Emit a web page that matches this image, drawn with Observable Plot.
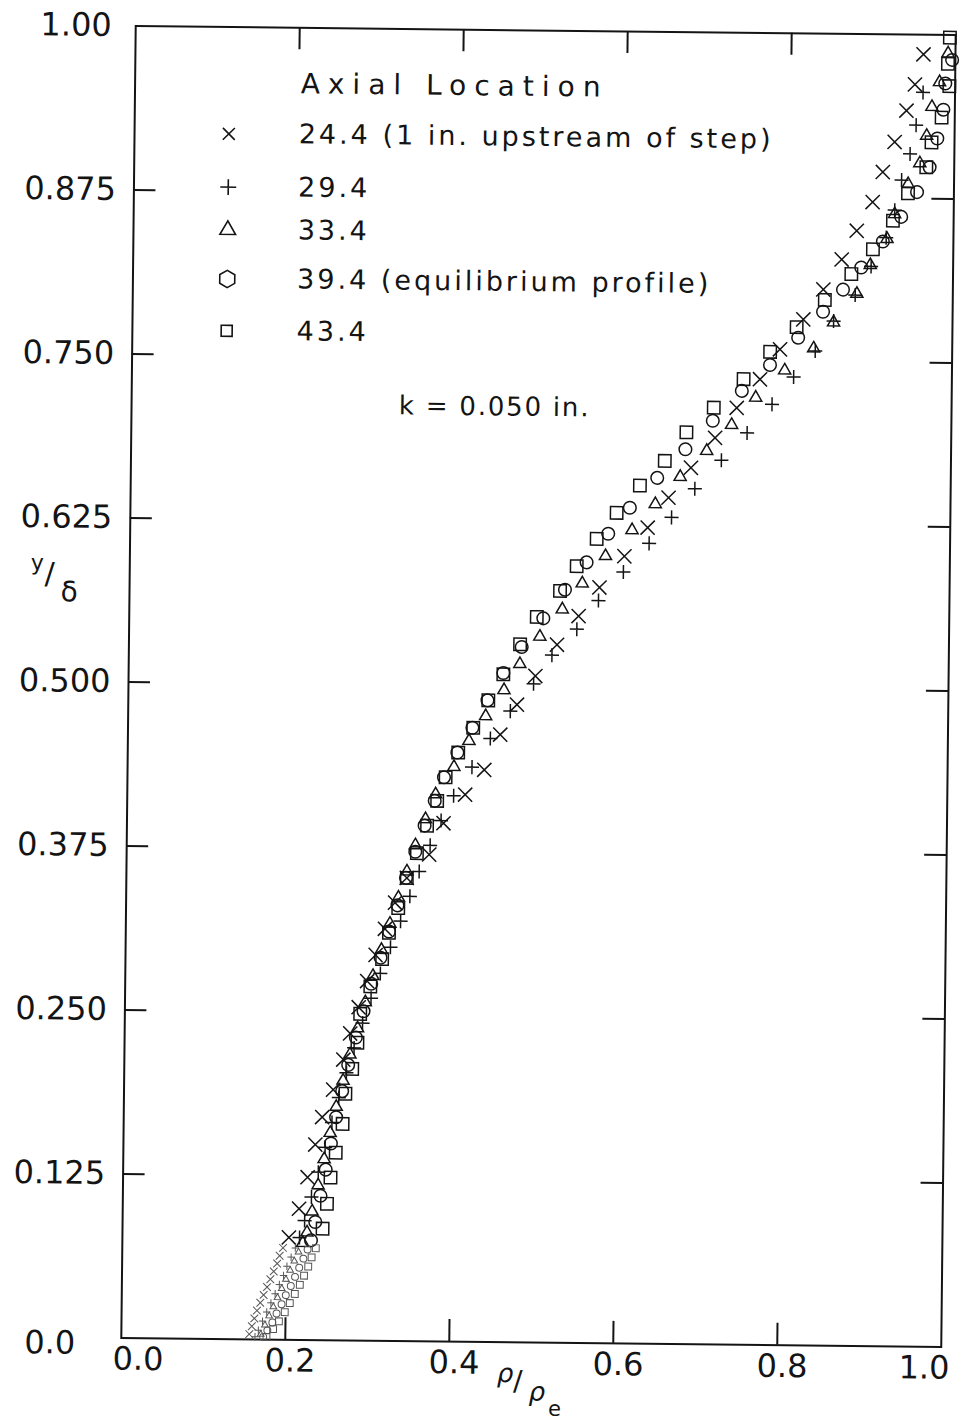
<!DOCTYPE html>
<html>
<head>
<meta charset="utf-8">
<script src="https://cdn.jsdelivr.net/npm/d3@7"></script>
<script src="https://cdn.jsdelivr.net/npm/@observablehq/plot@0.6"></script>
<style>
  html, body { margin: 0; padding: 0; background: #fff; overflow: hidden; }
  #chart { width: 962px; height: 1425px; position: relative; }
  g[font-size="28"] { letter-spacing: 8px; }
  g[font-size="27"] { letter-spacing: 3px; }
  g[font-size="26"] { letter-spacing: 1.8px; }
</style>
</head>
<body>
<div id="chart"></div>
<script>
// ---------- tick values and labels ----------
const xTicks = [0, 0.2, 0.4, 0.6, 0.8, 1.0];
const xTickLabels = ["0.0", "0.2", "0.4", "0.6", "0.8", "1.0"];
const yTicks = [0, 0.125, 0.25, 0.375, 0.5, 0.625, 0.75, 0.875, 1.0];
const yTickLabels = ["0.0", "0.125", "0.250", "0.375", "0.500", "0.625", "0.750", "0.875", "1.00"];

// ---------- legend ----------
const legendTitle = "Axial Location";
const seriesLabels = [
  "24.4 (1 in. upstream of step)",
  "29.4",
  "33.4",
  "39.4 (equilibrium profile)",
  "43.4"
];
const seriesSymbols = ["times", "plus", "triangle", "circle", "square"];
const legendSymbols = ["times", "plus", "triangle", "hexagon", "square"];
const annotation = "k = 0.050 in.";

// ---------- data: [rho/rho_e, y/delta] ----------
const s244 = [
  [0.961,0.985],[0.951,0.962],[0.941,0.942],[0.927,0.918],[0.913,0.895],[0.901,0.872],[0.882,0.850],
  [0.864,0.828],[0.842,0.805],[0.818,0.782],[0.790,0.759],[0.766,0.736],[0.738,0.714],[0.712,0.691],
  [0.683,0.668],[0.656,0.645],[0.631,0.622],[0.603,0.600],[0.573,0.576],[0.548,0.554],[0.522,0.532],
  [0.496,0.508],[0.474,0.486],[0.454,0.463],[0.435,0.436],[0.412,0.417],[0.386,0.395],[0.369,0.371],
  [0.342,0.353],[0.328,0.334],[0.316,0.314],[0.305,0.294],[0.295,0.274],[0.285,0.254],[0.275,0.234],
  [0.267,0.214],[0.255,0.191],[0.242,0.170],[0.234,0.149],[0.225,0.124],[0.215,0.100],[0.203,0.078],
  [0.196,0.070],[0.192,0.064],[0.189,0.058],[0.185,0.052],[0.181,0.046],[0.177,0.040],[0.173,0.034],
  [0.169,0.028],[0.165,0.022],[0.162,0.016],[0.159,0.010],[0.156,0.004]
];
const s294 = [
  [0.961,0.956],[0.953,0.931],[0.946,0.909],[0.936,0.889],[0.928,0.866],[0.918,0.845],[0.900,0.823],
  [0.881,0.801],[0.855,0.781],[0.833,0.758],[0.807,0.738],[0.781,0.717],[0.751,0.695],[0.720,0.674],
  [0.688,0.652],[0.660,0.630],[0.633,0.610],[0.602,0.588],[0.572,0.566],[0.546,0.544],[0.516,0.524],
  [0.494,0.502],[0.466,0.481],[0.442,0.460],[0.420,0.438],[0.398,0.416],[0.383,0.397],[0.370,0.378],
  [0.357,0.358],[0.346,0.339],[0.335,0.320],[0.323,0.300],[0.311,0.280],[0.300,0.261],[0.290,0.242],
  [0.280,0.223],[0.271,0.204],[0.262,0.185],[0.254,0.166],[0.246,0.147],[0.238,0.128],[0.230,0.109],
  [0.222,0.091],[0.216,0.078],
  [0.211,0.070],[0.206,0.063],[0.201,0.056],[0.197,0.049],[0.192,0.042],[0.187,0.035],[0.182,0.028],
  [0.177,0.021],[0.172,0.014],[0.167,0.007],[0.163,0.002]
];
const s334 = [
  [0.991,0.986],[0.981,0.964],[0.972,0.945],[0.966,0.923],[0.958,0.902],[0.944,0.886],[0.928,0.863],
  [0.919,0.844],[0.899,0.824],[0.883,0.802],[0.855,0.780],[0.831,0.760],[0.796,0.743],[0.761,0.722],
  [0.732,0.701],[0.702,0.681],[0.670,0.661],[0.640,0.640],[0.612,0.620],[0.580,0.600],[0.552,0.579],
  [0.528,0.559],[0.501,0.538],[0.477,0.517],[0.458,0.497],[0.436,0.477],[0.416,0.458],[0.398,0.438],
  [0.376,0.417],[0.364,0.398],[0.352,0.378],[0.342,0.358],[0.332,0.338],[0.322,0.318],[0.312,0.298],
  [0.302,0.278],[0.293,0.258],[0.284,0.238],[0.275,0.218],[0.267,0.198],[0.259,0.178],[0.252,0.158],
  [0.245,0.138],[0.238,0.118],[0.231,0.098],[0.225,0.082],
  [0.220,0.074],[0.215,0.067],[0.210,0.060],[0.205,0.053],[0.200,0.046],[0.195,0.039],[0.190,0.032],
  [0.185,0.025],[0.180,0.018],[0.175,0.011],[0.170,0.004]
];
const s394 = [
  [0.996,0.981],[0.988,0.963],[0.986,0.943],[0.979,0.921],[0.970,0.899],[0.955,0.880],[0.936,0.861],
  [0.914,0.842],[0.888,0.822],[0.866,0.805],[0.842,0.788],[0.812,0.768],[0.778,0.747],[0.744,0.727],
  [0.709,0.704],[0.676,0.682],[0.642,0.660],[0.609,0.637],[0.583,0.617],[0.557,0.595],[0.531,0.574],
  [0.505,0.552],[0.479,0.530],[0.457,0.510],[0.438,0.489],[0.420,0.468],[0.402,0.449],[0.386,0.430],
  [0.375,0.412],[0.363,0.393],[0.352,0.373],[0.341,0.353],[0.331,0.332],[0.321,0.312],[0.311,0.292],
  [0.300,0.272],[0.291,0.251],[0.282,0.231],[0.273,0.210],[0.266,0.190],[0.259,0.170],[0.253,0.150],
  [0.247,0.130],[0.241,0.110],[0.235,0.090],[0.230,0.076],
  [0.226,0.069],[0.221,0.062],[0.216,0.055],[0.211,0.048],[0.206,0.041],[0.200,0.034],[0.195,0.027],
  [0.189,0.020],[0.184,0.013],[0.178,0.007],[0.173,0.002]
];
const s434 = [
  [0.993,0.998],[0.991,0.978],[0.993,0.961],[0.984,0.937],[0.972,0.918],[0.966,0.899],[0.944,0.879],
  [0.926,0.858],[0.902,0.836],[0.876,0.817],[0.844,0.797],[0.810,0.776],[0.778,0.757],[0.746,0.736],
  [0.710,0.714],[0.677,0.695],[0.651,0.673],[0.621,0.654],[0.593,0.633],[0.569,0.613],[0.545,0.592],
  [0.525,0.573],[0.497,0.553],[0.477,0.532],[0.457,0.509],[0.439,0.489],[0.421,0.468],[0.403,0.449],
  [0.388,0.430],[0.378,0.412],[0.366,0.393],[0.354,0.372],[0.342,0.353],[0.332,0.330],[0.321,0.311],
  [0.313,0.291],[0.299,0.270],[0.287,0.249],[0.284,0.227],[0.278,0.207],[0.270,0.188],[0.267,0.165],
  [0.259,0.143],[0.253,0.124],[0.249,0.104],[0.244,0.085],[0.236,0.070],
  [0.231,0.063],[0.227,0.056],[0.222,0.049],[0.217,0.042],[0.211,0.035],[0.205,0.028],[0.199,0.021],
  [0.192,0.014],[0.185,0.008],[0.177,0.002]
];

// ---------- build table ----------
const seriesData = [s244, s294, s334, s394, s434];
const points = seriesData.flatMap((arr, i) =>
  arr.map(([x, y]) => ({series: seriesLabels[i], idx: i, x, y})));

// ---------- styling / layout constants ----------
const INK = "#141414";
const FONT = "DejaVu Sans";
const nearWall = 0.072;
const symR = [6.5, 4.6, 4.5, 6.3, 7.0];
const legR = [5.5, 5.2, 5.8, 7.5, 6.2];
const tickLenX = 22 / 820, tickLenY = 22 / 1312;
const legendRowY = [0.9186, 0.878, 0.8454, 0.808, 0.7685];

const marks = [];

// frame and inward ticks on all four sides
marks.push(Plot.frame({stroke: INK, strokeWidth: 2}));
const yInner = yTicks.slice(1, -1), xInner = xTicks.slice(1, -1);
marks.push(Plot.ruleY(yInner, {y: d => d, x1: 0, x2: tickLenX, stroke: INK, strokeWidth: 2}));
marks.push(Plot.ruleY(yInner, {y: d => d, x1: 1 - tickLenX, x2: 1, stroke: INK, strokeWidth: 2}));
marks.push(Plot.ruleX(xInner, {x: d => d, y1: 0, y2: tickLenY, stroke: INK, strokeWidth: 2}));
marks.push(Plot.ruleX(xInner, {x: d => d, y1: 1 - tickLenY, y2: 1, stroke: INK, strokeWidth: 2}));

// y tick labels
const yLab = yTicks.map((v, i) => ({v, t: yTickLabels[i]}));
marks.push(Plot.text(yLab.filter(d => d.v > 0 && d.v < 1), {x: () => 0, y: "v", text: "t", textAnchor: "end", dx: -18, fontSize: 32, fill: INK}));
marks.push(Plot.text(yLab.filter(d => d.v === 1), {x: () => 0, y: "v", text: "t", textAnchor: "end", dx: -24, fontSize: 32, fill: INK}));
marks.push(Plot.text(yLab.filter(d => d.v === 0), {x: () => 0, y: "v", text: "t", textAnchor: "end", dx: -46, dy: 6, fontSize: 32, fill: INK}));

// x tick labels
const xLab = xTicks.map((v, i) => ({v, t: xTickLabels[i]}));
marks.push(Plot.text(xLab.filter(d => d.v > 0 && d.v < 1), {x: "v", y: () => 0, text: "t", lineAnchor: "top", dy: 9, dx: 5, fontSize: 32, fill: INK}));
marks.push(Plot.text(xLab.filter(d => d.v === 0), {x: "v", y: () => 0, text: "t", lineAnchor: "top", dy: 9, dx: 17, fontSize: 32, fill: INK}));
marks.push(Plot.text(xLab.filter(d => d.v === 1), {x: "v", y: () => 0, text: "t", lineAnchor: "top", dy: 9, dx: -17, fontSize: 32, fill: INK}));

// axis titles: y/δ and ρ/ρe
marks.push(Plot.text(["y"], {frameAnchor: "left", text: d => d, dx: -99, dy: -118, fontSize: 22, fill: INK}));
marks.push(Plot.text(["/"], {frameAnchor: "left", text: d => d, dx: -85, dy: -107, fontSize: 30, fill: INK}));
marks.push(Plot.text(["δ"], {frameAnchor: "left", text: d => d, dx: -69, dy: -89, fontSize: 28, fill: INK}));
marks.push(Plot.text(["ρ"], {frameAnchor: "bottom", text: d => d, dx: -25, dy: 40, fontSize: 26, fontStyle: "italic", fill: INK}));
marks.push(Plot.text(["/"], {frameAnchor: "bottom", text: d => d, dx: -9, dy: 48, fontSize: 28, fill: INK}));
marks.push(Plot.text(["ρ"], {frameAnchor: "bottom", text: d => d, dx: 7, dy: 58, fontSize: 26, fontStyle: "italic", fill: INK}));
marks.push(Plot.text(["e"], {frameAnchor: "bottom", text: d => d, dx: 24, dy: 73, fontSize: 21, fill: INK}));

// data symbols
seriesLabels.forEach((label, i) => {
  const ser = points.filter(d => d.idx === i);
  marks.push(Plot.dot(ser.filter(d => d.y >= nearWall), {
    x: "x", y: "y", symbol: () => seriesSymbols[i], r: symR[i],
    stroke: INK, strokeWidth: 1.5, fill: "none"
  }));
  marks.push(Plot.dot(ser.filter(d => d.y < nearWall), {
    x: "x", y: "y", symbol: () => seriesSymbols[i], r: symR[i] * 0.55,
    stroke: "#555", strokeWidth: 1, fill: "none"
  }));
});

// legend
marks.push(Plot.text([legendTitle], {x: () => 0.202, y: () => 0.957, text: d => d, textAnchor: "start", fontSize: 28, fill: INK}));
seriesLabels.forEach((label, i) => {
  marks.push(Plot.dot([label], {x: () => 0.115, y: () => legendRowY[i], symbol: () => legendSymbols[i], r: legR[i], stroke: INK, strokeWidth: 1.6, fill: "none"}));
});
marks.push(Plot.text(seriesLabels.map((t, i) => ({t, i})), {x: () => 0.2003, y: d => legendRowY[d.i], text: "t", textAnchor: "start", fontSize: 27, fill: INK}));
marks.push(Plot.text([annotation], {x: () => 0.326, y: () => 0.7127, text: d => d, textAnchor: "start", fontSize: 26, fill: INK}));

const chart = Plot.plot({
  width: 962,
  height: 1425,
  marginLeft: 128,
  marginRight: 14,
  marginTop: 30,
  marginBottom: 83,
  x: {domain: [0, 1], axis: null},
  y: {domain: [0, 1], axis: null},
  style: {fontFamily: FONT, background: "transparent", overflow: "visible"},
  marks
});
chart.style.transformOrigin = "538px 685px";
chart.style.transform = "rotate(0.63deg)";
document.getElementById("chart").appendChild(chart);
</script>
</body>
</html>
